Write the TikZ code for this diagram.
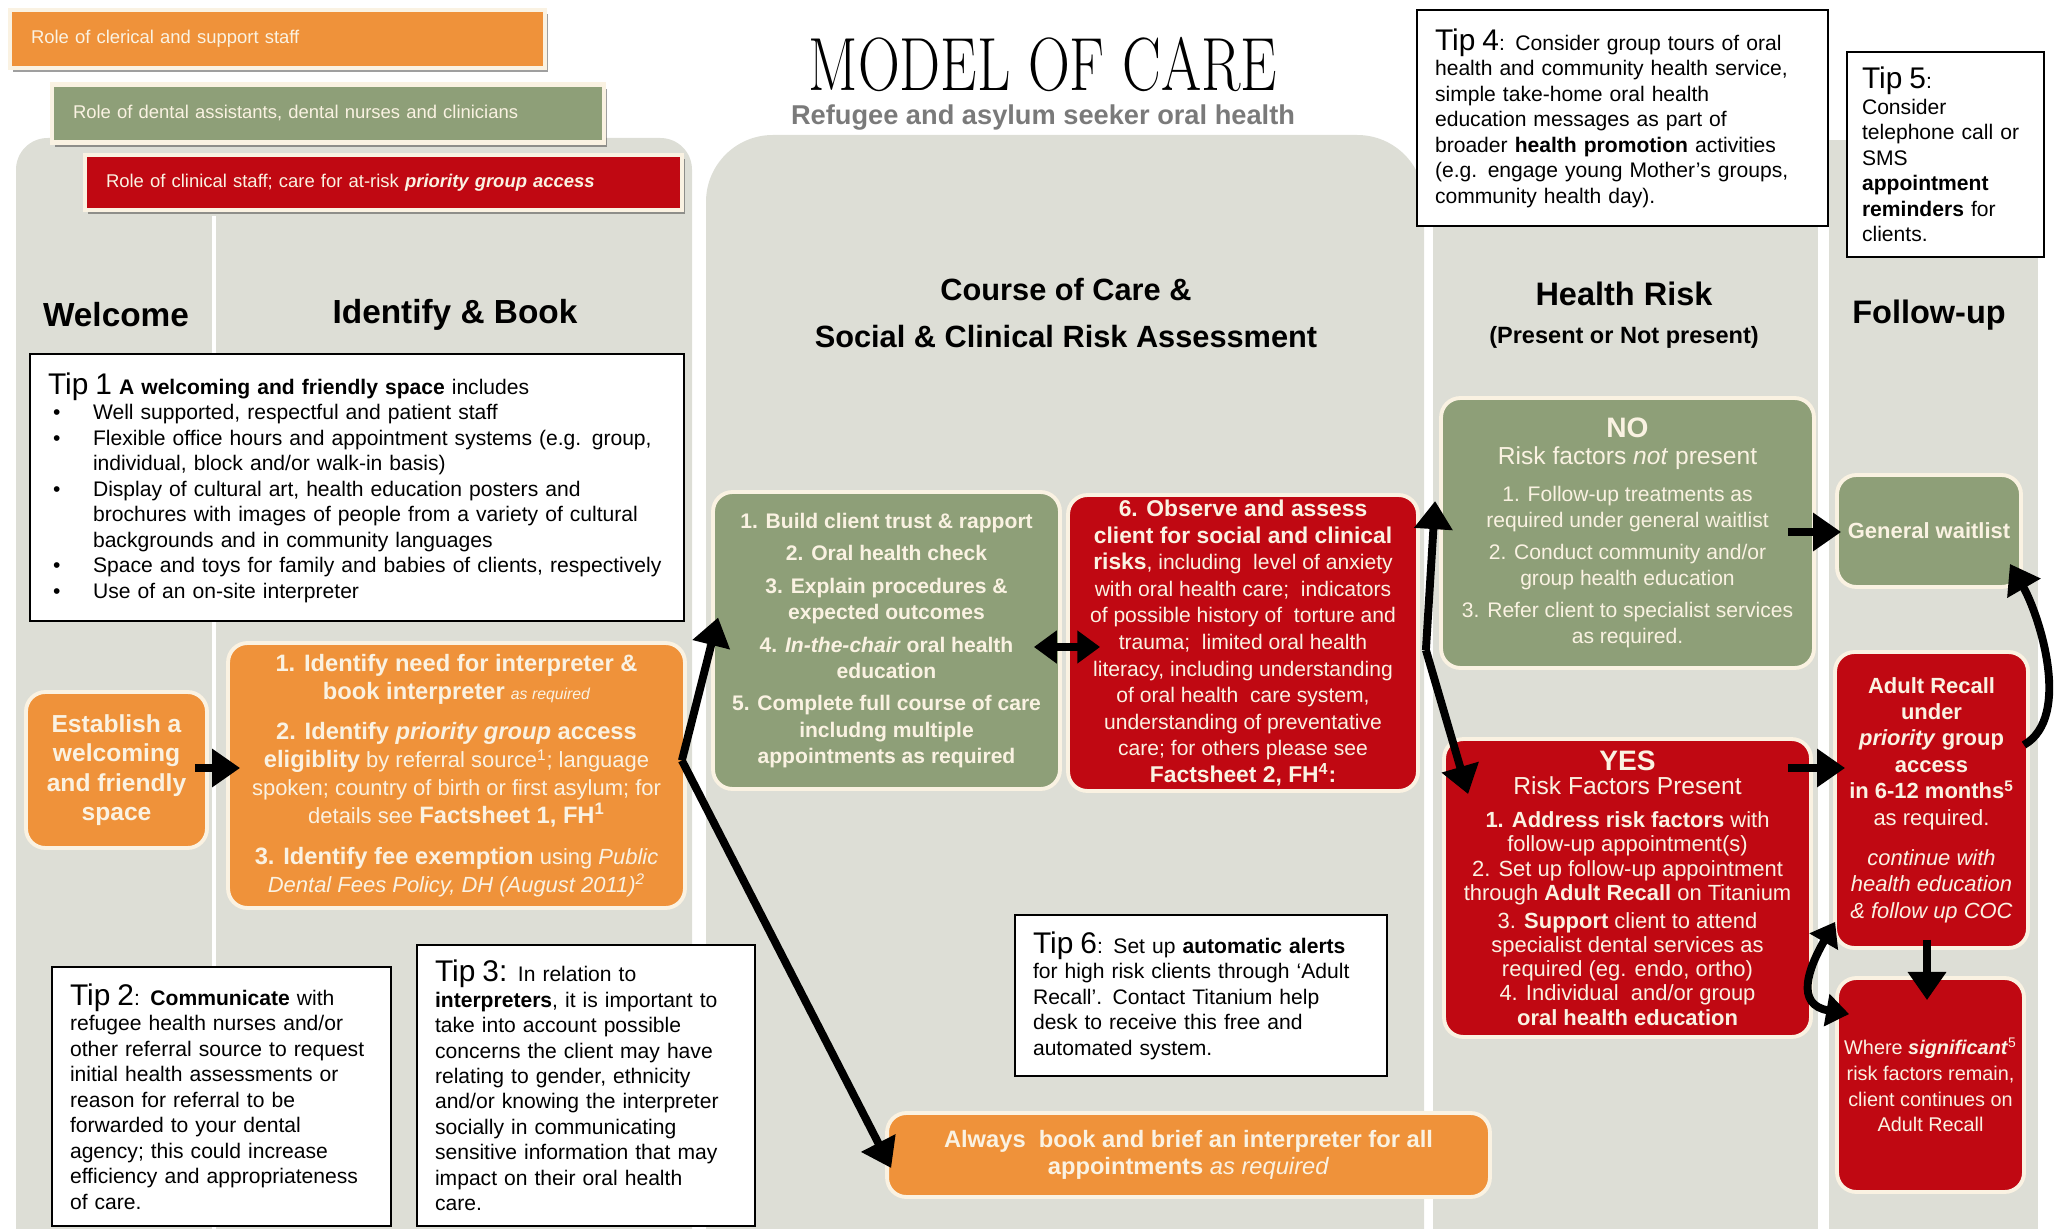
\documentclass[tikz,border=0pt]{standalone}
\usepackage{fontspec}
\setsansfont{Liberation Sans}
\usetikzlibrary{arrows.meta,calc,shadows}

\definecolor{careorange}{RGB}{239,146,58}
\definecolor{caregreen}{RGB}{142,159,120}
\definecolor{carered}{RGB}{192,8,18}
\definecolor{panelgrey}{RGB}{221,222,214}
\definecolor{boxcream}{RGB}{250,242,226}
\definecolor{subgrey}{RGB}{122,122,122}

\tikzset{
  rolebar/.style={draw=boxcream, line width=2.5pt, minimum height=1.16cm, inner xsep=0.42cm,
    align=left, text=boxcream, font=\sffamily\fontsize{10.5}{12}\selectfont,
    drop shadow={shadow xshift=1.5pt, shadow yshift=-2.5pt, fill=black!75}},
  colhead/.style={font=\sffamily\bfseries\fontsize{19}{22}\selectfont},
  tipbox/.style={draw=black, line width=1.6pt, fill=white, align=left, inner xsep=0.36cm,
    font=\sffamily\fontsize{12}{14.5}\selectfont},
  flowbox/.style={draw=boxcream, line width=2.2pt, rounded corners=11pt, align=center,
    text=boxcream, inner sep=1pt},
  orangebox/.style={flowbox, fill=careorange},
  greenbox/.style={flowbox, fill=caregreen},
  redbox/.style={flowbox, fill=carered},
  flowarrow/.style={line width=4.5pt, -{Triangle[length=16pt,width=21pt]}},
  botharrow/.style={line width=4.5pt, {Triangle[length=13pt,width=18pt]}-{Triangle[length=13pt,width=18pt]}},
}

\newcommand{\tipno}[1]{{\fontsize{17}{17}\selectfont #1}}
\newcommand{\bfbig}{\bfseries\fontsize{13.5}{16}\selectfont}
\newcommand{\tipbullet}{\hspace*{0.1cm}\makebox[0.8cm][l]{\textbullet}}
\newcommand{\tipindent}{\hspace*{0.9cm}}

\begin{document}
\begin{tikzpicture}[x=0.02cm,y=-0.02cm]
\useasboundingbox (0,0) rectangle (2058,1229);
\clip (0,0) rectangle (2058,1229);
% column panels
\fill[panelgrey,rounded corners=18pt] (16,138) rectangle (692,1300);
\fill[panelgrey,rounded corners=38pt] (706,135) rectangle (1424,1300);
\fill[panelgrey] (1433,200) rectangle (1818,1229);
\fill[panelgrey] (1829,140) rectangle (2038,1229);
\draw[white,line width=2pt] (214,216) -- (214,1229);

% role legend
\node[rolebar, fill=careorange, minimum width=10.7cm, text width=9.86cm] (clerical) at (277.5,39) {Role of clerical and support staff};
\node[rolebar, fill=caregreen, minimum width=11.04cm, text width=10.2cm] (dental) at (328,113.5) {Role of dental assistants, dental nurses and clinicians};
\node[rolebar, fill=carered, minimum width=11.94cm, text width=11.1cm, minimum height=1.1cm] (clinical) at (383.5,182.5) {Role of clinical staff; care for at-risk \textbf{\textit{priority group access}}};

% title
\node[font=\rmfamily\fontsize{33}{33}\selectfont] (title) at (1043,64) {\scalebox{1}[1.3]{MODEL OF CARE}};
\node[font=\sffamily\bfseries\fontsize{15.5}{18}\selectfont, text=subgrey] (subtitle) at (1043,118) {Refugee and asylum seeker oral health};

% column headings
\node[colhead] (welcomehead) at (116,315) {Welcome};
\node[colhead] (identifyhead) at (455,315) {Identify \& Book};
\node[colhead, font=\sffamily\bfseries\fontsize{17.5}{26.7}\selectfont, align=center] (coursehead) at (1066,313) {Course of Care \&\\Social \& Clinical Risk Assessment};
\node[colhead, font=\sffamily\bfseries\fontsize{18.5}{22}\selectfont] (riskhead) at (1624,294) {Health Risk};
\node[font=\sffamily\bfseries\fontsize{13.4}{16}\selectfont] (risksub) at (1624,337) {(Present or Not present)};
\node[colhead, font=\sffamily\bfseries\fontsize{18.5}{22}\selectfont] (followhead) at (1929,315) {Follow-up};

% tips
\node[tipbox, minimum width=13.08cm, minimum height=5.34cm, text width=12.36cm] (tipone) at (357,487.5) {%
\tipno{Tip 1} \textbf{A welcoming and friendly space} includes\\
\tipbullet Well supported, respectful and patient staff\\
\tipbullet Flexible office hours and appointment systems (e.g. group,\\
\tipindent individual, block and/or walk-in basis)\\
\tipbullet Display of cultural art, health education posters and\\
\tipindent brochures with images of people from a variety of cultural\\
\tipindent backgrounds and in community languages\\
\tipbullet Space and toys for family and babies of clients, respectively\\
\tipbullet Use of an on-site interpreter};

\node[tipbox, minimum width=6.78cm, minimum height=5.18cm, text width=6.06cm] (tiptwo) at (221.5,1096.5) {%
\tipno{Tip 2}: \textbf{Communicate} with\\
refugee health nurses and/or\\
other referral source to request\\
initial health assessments or\\
reason for referral to be\\
forwarded to your dental\\
agency; this could increase\\
efficiency and appropriateness\\
of care.};

\node[tipbox, minimum width=6.76cm, minimum height=5.62cm, text width=6.04cm] (tipthree) at (586,1085.5) {%
\tipno{Tip 3:} In relation to\\
\textbf{interpreters}, it is important to\\
take into account possible\\
concerns the client may have\\
relating to gender, ethnicity\\
and/or knowing the interpreter\\
socially in communicating\\
sensitive information that may\\
impact on their oral health\\
care.};

\node[tipbox, minimum width=8.22cm, minimum height=4.32cm, text width=7.5cm] (tipfour) at (1622.5,118) {%
\tipno{Tip 4}: Consider group tours of oral\\
health and community health service,\\
simple take-home oral health\\
education messages as part of\\
broader \textbf{health promotion} activities\\
(e.g. engage young Mother’s groups,\\
community health day).};

\node[tipbox, minimum width=3.94cm, minimum height=4.1cm, text width=3.34cm, inner xsep=0.3cm] (tipfive) at (1945.5,154.5) {%
\tipno{Tip 5}:\\
Consider\\
telephone call or\\
SMS\\
\textbf{appointment}\\
\textbf{reminders} for\\
clients.};

\node[tipbox, minimum width=7.44cm, minimum height=3.22cm, text width=6.72cm] (tipsix) at (1201,995.5) {%
\tipno{Tip 6}: Set up \textbf{automatic alerts}\\
for high risk clients through ‘Adult\\
Recall’. Contact Titanium help\\
desk to receive this free and\\
automated system.};

% flow boxes
\node[orangebox, minimum width=3.62cm, minimum height=3.12cm, font=\sffamily\bfseries\fontsize{14}{16.8}\selectfont] (establish) at (116.5,770) {Establish a\\welcoming\\and friendly\\space};

\node[orangebox, minimum width=9.14cm, minimum height=5.3cm, font=\sffamily\fontsize{12.5}{16}\selectfont] (identify) at (456.5,775.5) {%
{\bfbig 1. Identify need for interpreter \&}\\
{\bfbig book interpreter} {\itshape\small as required}\\[7pt]
{\bfbig 2. Identify \textit{priority group} access}\\
{\bfbig eligiblity} by referral source\textsuperscript{1}; language\\
spoken; country of birth or first asylum; for\\
details see {\bfbig Factsheet 1, FH\textsuperscript{1}}\\[7pt]
{\bfbig 3. Identify fee exemption} using \textit{Public}\\
\textit{Dental Fees Policy, DH (August 2011)\textsuperscript{2}}};

\node[greenbox, minimum width=6.94cm, minimum height=5.94cm, font=\sffamily\bfseries\fontsize{12}{15}\selectfont] (build) at (886.5,640.5) {%
1. Build client trust \& rapport\\[3.5pt]
2. Oral health check\\[3.5pt]
3. Explain procedures \&\\
expected outcomes\\[3.5pt]
4. \textit{In-the-chair} oral health\\
education\\[3.5pt]
5. Complete full course of care\\
includng multiple\\
appointments as required};

\node[redbox, minimum width=7cm, minimum height=5.92cm, font=\sffamily\fontsize{12}{15.1}\selectfont] (observe) at (1243,643) {%
{\bfseries\fontsize{13}{15.1}\selectfont 6. Observe and assess}\\
{\bfseries\fontsize{13}{15.1}\selectfont client for social and clinical}\\
{\bfseries\fontsize{13}{15.1}\selectfont risks}, including\ \ level of anxiety\\
with oral health care;\ \ indicators\\
of possible history of\ \ torture and\\
trauma;\ \ limited oral health\\
literacy, including understanding\\
of oral health\ \ care system,\\
understanding of preventative\\
care; for others please see\\
{\bfseries\fontsize{13}{15.1}\selectfont Factsheet 2, FH\textsuperscript{4}:}};

\node[orangebox, minimum width=12.06cm, minimum height=1.68cm, font=\sffamily\fontsize{13.5}{15.4}\selectfont] (always) at (1188.5,1155) {%
\textbf{Always\ \ book and brief an interpreter for all}\\
\textbf{appointments} \textit{as required}};

\node[greenbox, minimum width=7.46cm, minimum height=5.4cm, font=\sffamily\fontsize{12}{15}\selectfont] (notpresent) at (1627.5,533) {%
{\bfseries\fontsize{16}{18}\selectfont NO}\\
{\fontsize{14}{17}\selectfont Risk factors \textit{not} present}\\[6pt]
1. Follow-up treatments as\\
required under general waitlist\\[3pt]
2. Conduct community and/or\\
group health education\\[3pt]
3. Refer client to specialist services\\
as required.};

\node[redbox, minimum width=7.34cm, minimum height=5.96cm, font=\sffamily\fontsize{12.5}{13.8}\selectfont] (present) at (1627.5,888) {%
{\bfseries\fontsize{16}{18}\selectfont YES}\\
{\fontsize{14}{16}\selectfont Risk Factors Present}\\[5pt]
\textbf{1. Address risk factors} with\\
follow-up appointment(s)\\
2. Set up follow-up appointment\\
through \textbf{Adult Recall} on Titanium\\[2pt]
3. \textbf{Support} client to attend\\
specialist dental services as\\
required (eg. endo, ortho)\\
4. Individual\ \ and/or group\\
\textbf{oral health education}};

\node[greenbox, minimum width=3.68cm, minimum height=2.24cm, font=\sffamily\bfseries\fontsize{12.5}{15}\selectfont] (waitlist) at (1929,531) {General waitlist};

\node[redbox, minimum width=3.86cm, minimum height=5.92cm, font=\sffamily\fontsize{12.5}{15}\selectfont] (recall) at (1931.5,800) {%
\textbf{Adult Recall}\\
\textbf{under}\\
\textbf{\textit{priority} group}\\
\textbf{access}\\
\textbf{in 6-12 months\textsuperscript{5}}\\
as required.\\[8pt]
\textit{continue with}\\
\textit{health education}\\
\textit{\& follow up COC}};

\node[redbox, minimum width=3.74cm, minimum height=4.28cm, font=\sffamily\fontsize{11.3}{14.6}\selectfont] (significant) at (1930.5,1085) {%
Where \textbf{\textit{significant}}\textsuperscript{5}\\
risk factors remain,\\
client continues on\\
Adult Recall};

% connectors
\coordinate (bookfork) at ($(identify.east)+(-5,-15)$);
\coordinate (riskfork) at ($(observe.east)+(6,7)$);
\draw[flowarrow] ($(establish.east)+(-14,-2)$) -- ($(identify.west)+(14,-7.5)$);
\draw[flowarrow] (bookfork) -- ($(build.west)+(7,-23)$);
\draw[flowarrow] (bookfork) -- ($(always.west)+(6,13)$);
\draw[botharrow] ($(build.east)+(-28,6.5)$) -- ($(observe.west)+(34,4)$);
\draw[flowarrow] (riskfork) -- ($(notpresent.west)+(-4,-32)$);
\draw[flowarrow] (riskfork) -- ($(present.north west)+(26,57)$);
\draw[flowarrow] ($(notpresent.east)+(-28,-1)$) -- ($(waitlist.west)+(6,1)$);
\draw[flowarrow] ($(present.east)+(-25,-120)$) -- ($(recall.west)+(12,-32)$);
\draw[flowarrow] ($(recall.south)+(-4.5,-10)$) -- ($(significant.north)+(-3.5,24)$);
\draw[flowarrow] ($(recall.east)+(-6,-55)$) to[out=30,in=-60,looseness=0.8] ($(waitlist.south east)+(-13,-25)$);
\draw[botharrow] ($(significant.north west)+(14,38)$) to[out=170,in=-120,looseness=1.5] ($(recall.south west)+(2,-28)$);

\end{tikzpicture}
\end{document}
